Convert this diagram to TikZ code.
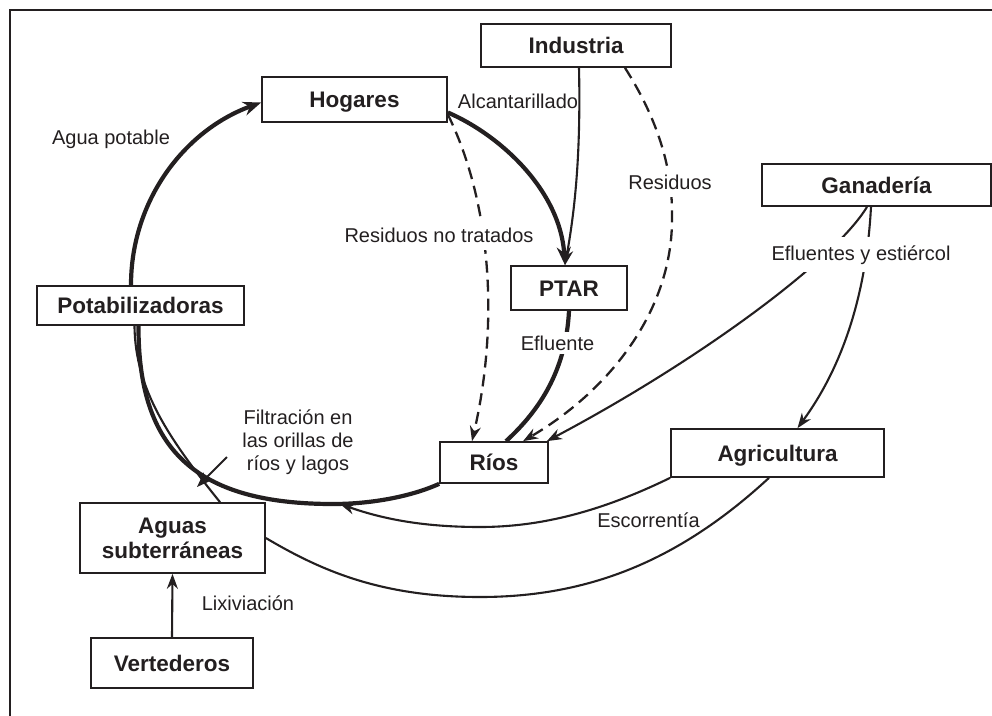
\documentclass[tikz,border=0pt]{standalone}
\usepackage{fontspec}
\setmainfont{Liberation Sans}
\usetikzlibrary{arrows.meta}
\definecolor{ink}{RGB}{35,31,32}
\begin{document}
\begin{tikzpicture}[x=1pt,y=-1pt,
  boxbase/.style={draw=ink, line width=1.7pt, fill=white, inner sep=0pt,
    font=\fontsize{22.5}{25}\selectfont\bfseries, text=ink},
  box/.style={boxbase, text height=16pt, text depth=0pt},
  lbl/.style={font=\fontsize{20}{23}\selectfont, text=ink, anchor=base, inner sep=0pt},
  wlbl/.style={lbl, fill=white, inner xsep=2pt, inner ysep=8pt},
  thickflow/.style={draw=ink, line width=4.2pt},
  thinflow/.style={draw=ink, line width=2.1pt},
  dflow/.style={draw=ink, line width=2.3pt, dash pattern=on 12pt off 7pt},
  tip/.style={-{Stealth[length=15pt,width=11pt]}},
  bigtip/.style={-{Stealth[length=18pt,width=14pt]}},
]
\useasboundingbox (0,0) rectangle (992,715);
\draw[ink, line width=2.2pt] (10,716) -- (10,10) -- (995,10);

% boxes
\node[box, minimum width=185pt, minimum height=45pt] (hog) at (354.5,99.5) {Hogares};
\node[box, minimum width=190pt, minimum height=43pt] (ind) at (576,45.5) {Industria};
\node[box, minimum width=229pt, minimum height=42pt] (gan) at (876.5,185) {Ganadería};
\node[box, minimum width=116pt, minimum height=44pt] (ptar) at (569,288) {PTAR};
\node[box, minimum width=207pt, minimum height=39pt] (pot) at (140.5,305.5) {Potabilizadoras};
\node[box, minimum width=108pt, minimum height=41pt] (rios) at (494,462.5) {Ríos};
\node[box, minimum width=213pt, minimum height=48pt] (agr) at (777.5,453) {Agricultura};
\node[boxbase, align=center, minimum width=185pt, minimum height=70pt] (agu) at (172.5,538) {Aguas\\subterráneas};
\node[box, minimum width=162pt, minimum height=50pt] (ver) at (172,663) {Vertederos};

\coordinate (rc) at (340,504);
\coordinate (f1) at (227,457);
\coordinate (f2) at (197,487);

% edges
\draw[thickflow, bigtip] ([xshift=-9.5pt]pot.north) .. controls (131,200) and (185,130) .. ([yshift=-3pt]hog.west);
\draw[thickflow, bigtip] ([yshift=-13pt]hog.east) .. controls (500,135) and (560,190) .. ([xshift=-4pt]ptar.north);
\draw[thinflow, tip] ([xshift=3pt]ind.south) .. controls (581,160) and (574,215) .. ([xshift=-4pt]ptar.north);
\draw[dflow, tip] ([xshift=49pt]ind.south) .. controls (655,115) and (673,165) .. (672,217) .. controls (673,310) and (610,390) .. ([xshift=29pt]rios.north);
\draw[dflow, tip] ([yshift=-15pt]hog.east) .. controls (490,200) and (500,320) .. ([xshift=-22pt]rios.north);
\draw[thickflow] (ptar.south) .. controls (566,370) and (540,410) .. ([xshift=12pt]rios.north);
\draw[thinflow, tip] ([xshift=-9.5pt]gan.south) .. controls (835,260) and (700,360) .. ([xshift=-2pt]rios.north east);
\draw[thinflow, tip] ([xshift=-5.5pt]gan.south) .. controls (866,300) and (840,370) .. ([xshift=20pt]agr.north);
\draw[thinflow, tip] (agr.south west) .. controls (600,512) and (540,527) .. (480,527) .. controls (420,527) and (380,518) .. (rc);
\draw[thinflow] ([xshift=-8.5pt]agr.south) .. controls (680,560) and (590,597) .. (480,597) .. controls (380,597) and (320,570) .. (agu.east);
\draw[thickflow] (rios.south west) .. controls (410,497) and (370,504) .. (333,504) .. controls (196,504) and (138,450) .. ([xshift=-2pt]pot.south);
\draw[thinflow] ([xshift=47.5pt]agu.north) .. controls (170,440) and (135,390) .. ([xshift=-6pt]pot.south);
\draw[thinflow, tip] (f1) -- (f2);
\draw[thinflow, tip] (ver.north) -- (agu.south);

% labels
\node[lbl] (lagua) at (111,144) {Agua potable};
\node[lbl] (lalc) at (518,108.5) {Alcantarillado};
\node[wlbl] (lres) at (670,189) {Residuos};
\node[wlbl] (lrnt) at (439,242) {Residuos no tratados};
\node[wlbl] (lefs) at (861,260) {Efluentes y estiércol};
\node[wlbl, inner ysep=4pt] (lef) at (557.5,350) {Efluente};
\node[lbl, anchor=center, align=center] (lfil) at (298,442) {Filtración en\\las orillas de\\ríos y lagos};
\node[lbl] (llix) at (248,610) {Lixiviación};
\node[lbl] (lesc) at (648.5,527) {Escorrentía};
\end{tikzpicture}
\end{document}
